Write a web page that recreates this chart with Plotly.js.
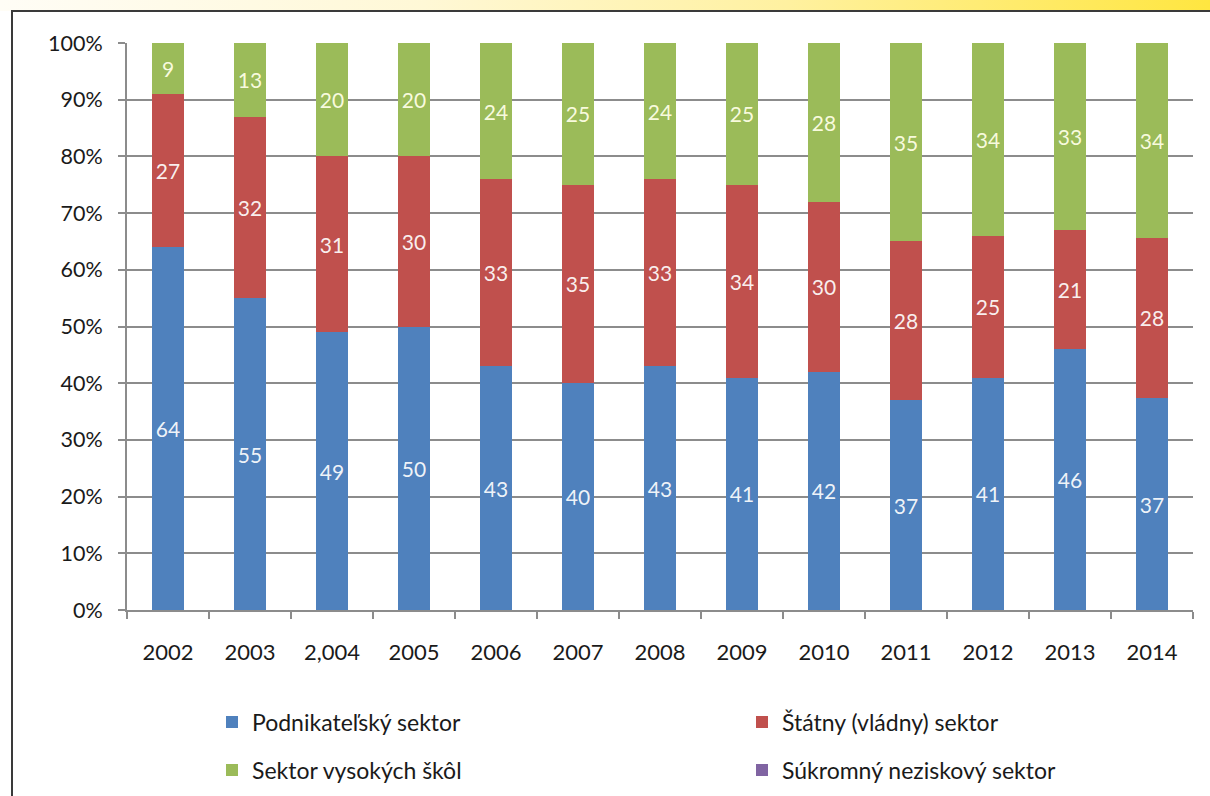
<!DOCTYPE html>
<html>
<head>
<meta charset="utf-8">
<script src="https://cdn.plot.ly/plotly-3.0.1.min.js"></script>
<style>
  html, body { margin: 0; padding: 0; background: #ffffff; }
  #wrap { position: relative; width: 1210px; height: 796px; overflow: hidden; background: #ffffff; }
  #band { position: absolute; left: 0; top: 0; width: 1210px; height: 11px;
          background: linear-gradient(to right, #fffdf6 0%, #fff8d6 35%, #fff1a0 65%, #ffe640 100%); }
  #frame { position: absolute; left: 11px; top: 10px; width: 1199px; height: 786px;
           border-top: 2px solid #3a3a3a; border-left: 2px solid #3a3a3a; background: #ffffff; box-sizing: border-box; }
  #chart { position: absolute; left: 0; top: 0; width: 1210px; height: 796px; }
</style>
</head>
<body>
<div id="wrap">
  <div id="band"></div>
  <div id="frame"></div>
  <div id="chart"></div>
</div>
<script>
const years = ["2002", "2003", "2,004", "2005", "2006", "2007", "2008", "2009", "2010", "2011", "2012", "2013", "2014"];
const podnikatelsky = [64, 55, 49, 50, 43, 40, 43, 41, 42, 37, 41, 46, 37];
const statny = [27, 32, 31, 30, 33, 35, 33, 34, 30, 28, 25, 21, 28];
const vysokeSkoly = [9, 13, 20, 20, 24, 25, 24, 25, 28, 35, 34, 33, 34];
const neziskovy = [0, 0, 0, 0, 0, 0, 0, 0, 0, 0, 0, 0, 0];
const seriesNames = ["Podnikateľský sektor", "Štátny (vládny) sektor", "Sektor vysokých škôl", "Súkromný neziskový sektor"];
const yTickVals = [0, 10, 20, 30, 40, 50, 60, 70, 80, 90, 100];
const yTickText = ["0%", "10%", "20%", "30%", "40%", "50%", "60%", "70%", "80%", "90%", "100%"];

const colors = ["#4f81bd", "#c0504d", "#9bbb59", "#8064a2"];
const textColors = ["rgba(255,255,255,0.92)", "rgba(255,255,255,0.92)", "rgba(255,255,230,0.95)", "rgba(255,255,255,0.92)"];
const FONT = "Lato, 'Open Sans', sans-serif";
const allSeries = [podnikatelsky, statny, vysokeSkoly, neziskovy];
const legendIds = ["legend", "legend2", "legend3", "legend4"];

const traces = allSeries.map((vals, i) => ({
  type: "bar",
  name: seriesNames[i],
  x: years,
  y: vals,
  text: vals.map(v => v > 0 ? String(v) : ""),
  texttemplate: "%{text}",
  textposition: i === 3 ? "none" : "inside",
  insidetextanchor: "middle",
  textangle: 0,
  textfont: { family: FONT, size: 21, color: textColors[i] },
  marker: { color: colors[i], line: { width: 0 } },
  hoverinfo: "x+y+name",
  legend: legendIds[i]
}));

const legendFont = { family: FONT, size: 23, color: "#1a1a1a" };
function leg(x, y) {
  return { x: x, y: y, xanchor: "left", yanchor: "middle", xref: "paper", yref: "paper",
           font: legendFont, bgcolor: "rgba(0,0,0,0)", borderwidth: 0, itemwidth: 30 };
}
// plot area: x 127..1193, y 43..610
const px = v => (v - 127) / 1066;
const py = v => (610 - v) / 567;

const layout = {
  width: 1210,
  height: 796,
  paper_bgcolor: "rgba(0,0,0,0)",
  plot_bgcolor: "rgba(0,0,0,0)",
  margin: { l: 127, r: 17, t: 43, b: 186, pad: 0, autoexpand: false },
  barmode: "stack",
  barnorm: "percent",
  bargap: 0.6,
  showlegend: true,
  font: { family: FONT, color: "#1a1a1a" },
  xaxis: {
    type: "category",
    automargin: false,
    tickson: "boundaries",
    ticks: "outside",
    ticklen: 7,
    tickwidth: 2,
    tickcolor: "#8c8c8c",
    showline: true,
    linecolor: "#8c8c8c",
    linewidth: 2,
    showgrid: false,
    tickfont: { family: FONT, size: 22, color: "#1a1a1a" },
    ticklabelstandoff: 22,
    fixedrange: true
  },
  yaxis: {
    range: [0, 100],
    automargin: false,
    tickvals: yTickVals,
    ticktext: yTickText,
    ticks: "outside",
    ticklen: 7,
    tickwidth: 2,
    tickcolor: "#8c8c8c",
    showline: true,
    linecolor: "#8c8c8c",
    linewidth: 2,
    showgrid: true,
    gridcolor: "#8c8c8c",
    gridwidth: 2,
    zeroline: false,
    tickfont: { family: FONT, size: 21.5, color: "#1a1a1a" },
    ticklabelstandoff: 11,
    fixedrange: true
  },
  legend: leg(px(212), py(722)),
  legend2: leg(px(742), py(722)),
  legend3: leg(px(212), py(770)),
  legend4: leg(px(742), py(770))
};

Plotly.newPlot("chart", traces, layout, { displayModeBar: false, staticPlot: true });
</script>
</body>
</html>
